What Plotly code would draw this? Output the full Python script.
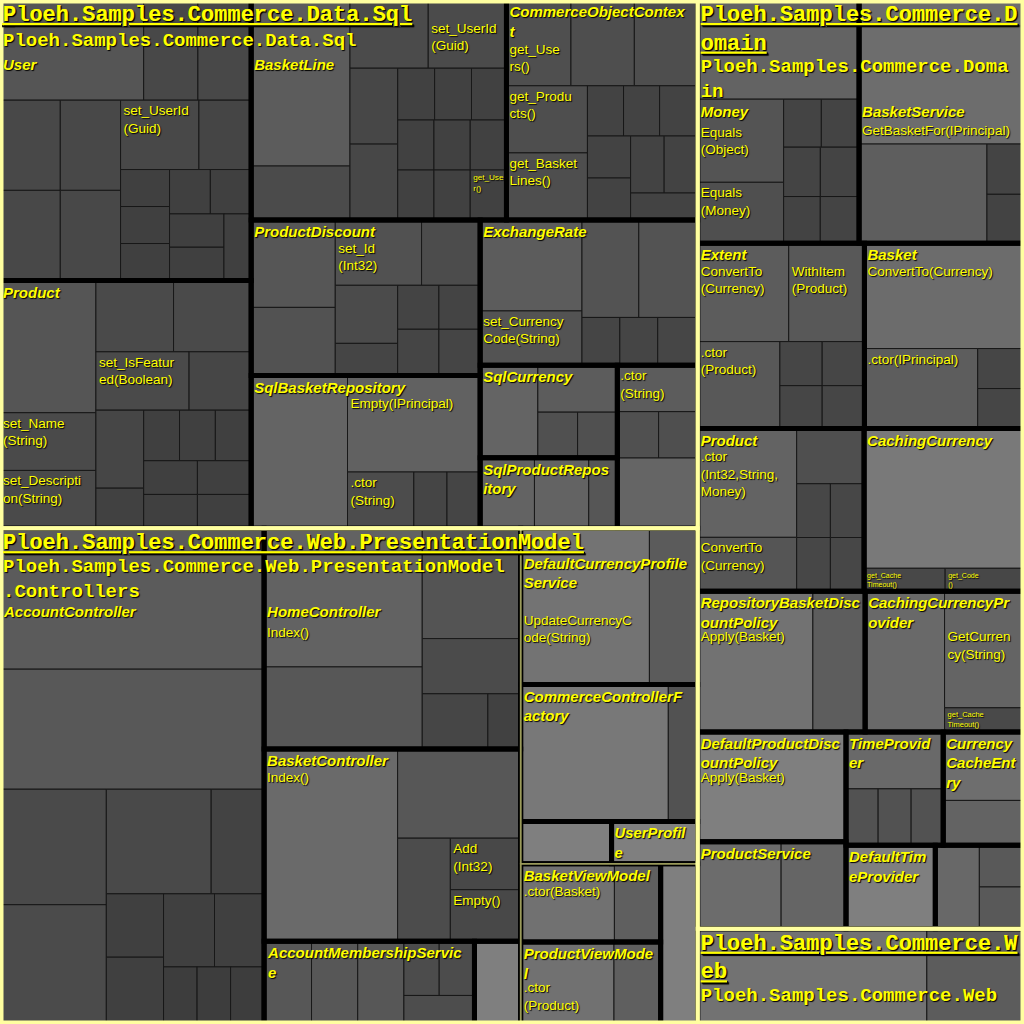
import math
import plotly.graph_objects as go

# ---------------- data ----------------
ASSEMBLIES = ["Ploeh.Samples.Commerce.Data.Sql",
              "Ploeh.Samples.Commerce.Web.PresentationModel",
              "Ploeh.Samples.Commerce.Domain",
              "Ploeh.Samples.Commerce.Web"]
ASSEMBLY_TEXT = ["Ploeh.Samples.Commerce.Data.Sql",
                 "Ploeh.Samples.Commerce.Web.PresentationModel",
                 "Ploeh.Samples.Commerce.D<br>omain",
                 "Ploeh.Samples.Commerce.W<br>eb"]

NS_NAMES = ["Ploeh.Samples.Commerce.Data.Sql",
            "Ploeh.Samples.Commerce.Web.PresentationModel.Controllers",
            "(namespace)", "(namespace)",
            "Ploeh.Samples.Commerce.Domain",
            "Ploeh.Samples.Commerce.Web"]
NS_ASSEMBLY = [0, 1, 1, 1, 2, 3]
NS_TEXT = ["Ploeh.Samples.Commerce.Data.Sql",
           "Ploeh.Samples.Commerce.Web.PresentationModel<br>.Controllers",
           "", "",
           "Ploeh.Samples.Commerce.Doma<br>in",
           "Ploeh.Samples.Commerce.Web"]

TYPE_KEYS = ["sql.User", "sql.Product", "sql.BasketLine", "sql.CommerceObjectContext",
             "sql.ProductDiscount", "sql.SqlBasketRepository", "sql.ExchangeRate",
             "sql.SqlCurrency", "sql.SqlProductRepository", "sql.(type)",
             "ctl.AccountController", "ctl.HomeController", "ctl.BasketController",
             "ctl.AccountMembershipService", "ctl.(type)",
             "svc.DefaultCurrencyProfileService", "svc.CommerceControllerFactory",
             "svc.(type)", "svc.UserProfile",
             "mdl.BasketViewModel", "mdl.ProductViewModel", "mdl.(type)",
             "dom.Money", "dom.BasketService", "dom.Extent", "dom.Basket", "dom.Product",
             "dom.CachingCurrency", "dom.RepositoryBasketDiscountPolicy",
             "dom.CachingCurrencyProvider", "dom.DefaultProductDiscountPolicy",
             "dom.ProductService", "dom.TimeProvider", "dom.CurrencyCacheEntry",
             "dom.DefaultTimeProvider", "dom.(type)",
             "web.(type)"]
TYPE_NS = [0] * 10 + [1] * 5 + [2] * 4 + [3] * 3 + [4] * 14 + [5]
TYPE_TEXT = ["User", "Product", "BasketLine", "CommerceObjectContex<br>t",
             "ProductDiscount", "SqlBasketRepository", "ExchangeRate",
             "SqlCurrency", "SqlProductRepos<br>itory", "",
             "AccountController", "HomeController", "BasketController",
             "AccountMembershipServic<br>e", "",
             "DefaultCurrencyProfile<br>Service", "CommerceControllerF<br>actory",
             "", "UserProfil<br>e",
             "BasketViewModel", "ProductViewMode<br>l", "",
             "Money", "BasketService", "Extent", "Basket", "Product",
             "CachingCurrency", "RepositoryBasketDisc<br>ountPolicy",
             "CachingCurrencyPr<br>ovider", "DefaultProductDisc<br>ountPolicy",
             "ProductService", "TimeProvid<br>er", "Currency<br>CacheEnt<br>ry",
             "DefaultTim<br>eProvider", "",
             ""]

# method metric values per type (in layout order)
METHOD_VALUES = {
    "sql.User": [14.3, 5.4, 5.3, 5.4, 5.4, 5.4, 5.4, 5.4, 3.6, 1.8, 1.8, 1.8, 1.8, 1.8, 1.8, 1.8, 1.8],
    "sql.Product": [12.6, 5.5, 5.5, 5.5, 5.5, 5.4, 3.6, 3.7, 1.9, 1.8, 1.8, 1.8, 1.8, 1.8, 1.8, 1.8],
    "sql.BasketLine": [16.3, 5.3, 5.3, 5.3, 3.6, 3.6, 1.9, 1.9, 1.8, 1.8, 1.8, 1.8, 1.8, 1.8, 1.8],
    "sql.CommerceObjectContext": [5.5, 5.4, 5.4, 5.4, 5.4, 1.8, 1.8, 1.9, 1.8, 1.8, 1.9, 1.9, 1.8],
    "sql.ProductDiscount": [7.3, 5.7, 5.6, 3.8, 3.6, 2.0, 1.8, 1.8, 1.9, 1.9],
    "sql.SqlBasketRepository": [14.6, 12.7, 3.7, 1.85, 1.85],
    "sql.ExchangeRate": [9.2, 5.5, 5.5, 5.7, 1.8, 1.8, 1.9],
    "sql.SqlCurrency": [5.3, 3.7, 1.8, 1.8],
    "sql.SqlProductRepository": [3.8, 3.8, 2.0],
    "sql.(type)": [3.7, 1.9, 1.8, 5.6],
    "ctl.AccountController": [37.0, 31.5, 12.2, 12.6, 10.9, 5.5, 3.6, 3.8, 3.7, 3.6, 1.9, 1.9, 1.9],
    "ctl.HomeController": [21.8, 12.9, 10.8, 5.4, 3.6, 1.8],
    "ctl.BasketController": [25.5, 10.9, 5.4, 3.6, 3.6],
    "ctl.AccountMembershipService": [3.9, 3.8, 3.8, 1.9, 1.9, 2.0],
    "ctl.(type)": [3.8],
    "svc.DefaultCurrencyProfileService": [20.0, 7.5],
    "svc.CommerceControllerFactory": [20.1, 4.0],
    "svc.(type)": [3.8],
    "svc.UserProfile": [3.6],
    "mdl.BasketViewModel": [7.3, 3.6],
    "mdl.ProductViewModel": [7.6, 3.8],
    "mdl.(type)": [5.9],
    "dom.Money": [15.9, 7.1, 5.2, 1.8, 1.8, 1.8, 1.9, 1.7, 1.8],
    "dom.BasketService": [23.6, 12.6, 1.85, 1.8],
    "dom.Extent": [8.9, 7.4, 7.1, 1.85, 1.85, 1.8, 1.8],
    "dom.Basket": [16.7, 9.0, 1.84, 1.84],
    "dom.Product": [10.7, 5.3, 3.7, 1.8, 1.8, 1.8, 1.8],
    "dom.CachingCurrency": [22.2, 1.85, 1.8],
    "dom.RepositoryBasketDiscountPolicy": [16.1, 7.3],
    "dom.CachingCurrencyProvider": [11.1, 9.2, 1.9],
    "dom.DefaultProductDiscountPolicy": [16.2],
    "dom.ProductService": [7.2, 5.6],
    "dom.TimeProvider": [5.5, 1.8, 1.85, 1.8],
    "dom.CurrencyCacheEntry": [5.5, 3.6],
    "dom.DefaultTimeProvider": [7.4],
    "dom.(type)": [3.65, 1.85, 1.85],
    "web.(type)": [21.7, 9.2],
}

METHOD_TEXT = {
    "sql.User": {7: "set_UserId<br>(Guid)"},
    "sql.Product": {1: "set_Name<br>(String)", 2: "set_Descripti<br>on(String)",
                    5: "set_IsFeatur<br>ed(Boolean)"},
    "sql.BasketLine": {3: "set_UserId<br>(Guid)", 14: "get_Use<br>r()"},
    "sql.CommerceObjectContext": {0: "get_Use<br>rs()", 3: "get_Produ<br>cts()",
                                  4: "get_Basket<br>Lines()"},
    "sql.ProductDiscount": {2: "set_Id<br>(Int32)"},
    "sql.SqlBasketRepository": {1: "Empty(IPrincipal)", 2: ".ctor<br>(String)"},
    "sql.ExchangeRate": {1: "set_Currency<br>Code(String)"},
    "sql.(type)": {0: ".ctor<br>(String)"},
    "ctl.HomeController": {0: "Index()"},
    "ctl.BasketController": {0: "Index()", 3: "Add<br>(Int32)", 4: "Empty()"},
    "svc.DefaultCurrencyProfileService": {0: "UpdateCurrencyC<br>ode(String)"},
    "mdl.BasketViewModel": {0: ".ctor(Basket)"},
    "mdl.ProductViewModel": {0: ".ctor<br>(Product)"},
    "dom.Money": {1: "Equals<br>(Object)", 2: "Equals<br>(Money)"},
    "dom.BasketService": {0: "GetBasketFor(IPrincipal)"},
    "dom.Extent": {0: "ConvertTo<br>(Currency)", 1: "WithItem<br>(Product)", 2: ".ctor<br>(Product)"},
    "dom.Basket": {0: "ConvertTo(Currency)", 1: ".ctor(IPrincipal)"},
    "dom.Product": {0: ".ctor<br>(Int32,String,<br>Money)", 1: "ConvertTo<br>(Currency)"},
    "dom.CachingCurrency": {1: "get_Cache<br>Timeout()", 2: "get_Code<br>()"},
    "dom.RepositoryBasketDiscountPolicy": {0: "Apply(Basket)"},
    "dom.CachingCurrencyProvider": {1: "GetCurren<br>cy(String)", 2: "get_Cache<br>Timeout()"},
    "dom.DefaultProductDiscountPolicy": {0: "Apply(Basket)"},
}

# ---------------- label stacking (style): (blank lines, size of first blank line) ----------------
NS_LEAD = {0: (1, 22), 1: (1, None), 4: (2, 24), 5: (2, 24)}
TYPE_LEAD = {"sql.User": (3, 9), "sql.BasketLine": (3, 9), "ctl.AccountController": (4, 9),
             "ctl.HomeController": (4, 9), "svc.DefaultCurrencyProfileService": (1, 20),
             "dom.Money": (5, 18), "dom.BasketService": (5, 18)}
METHOD_LEAD = {("sql.BasketLine", 3): (1, None), ("sql.CommerceObjectContext", 0): (1, 37),
               ("sql.ProductDiscount", 2): (1, None), ("sql.SqlBasketRepository", 1): (1, None),
               ("ctl.HomeController", 0): (6, 1), ("ctl.BasketController", 0): (1, None),
               ("svc.DefaultCurrencyProfileService", 0): (5, 7),
               ("mdl.BasketViewModel", 0): (1, None), ("mdl.ProductViewModel", 0): (2, None),
               ("dom.Money", 1): (1, 19), ("dom.BasketService", 0): (7, 10),
               ("dom.Extent", 0): (1, None), ("dom.Extent", 1): (1, None),
               ("dom.Basket", 0): (1, None), ("dom.Product", 0): (1, None),
               ("dom.RepositoryBasketDiscountPolicy", 0): (2, None),
               ("dom.CachingCurrencyProvider", 1): (2, None),
               ("dom.DefaultProductDiscountPolicy", 0): (2, None)}


def lead(spec):
    if not spec:
        return ""
    k, x = spec
    first = f'<span style="font-size:{x}px">\u00a0</span><br>' if x else "\u00a0<br>"
    return first + "\u00a0<br>" * (k - 1)


ids, labels, parents, values, texts, levels, frac = [], [], [], [], [], [], []


def add(i, lab, par, val, txt, lev, f=0.0):
    ids.append(i); labels.append(lab); parents.append(par); values.append(val)
    texts.append(txt); levels.append(lev); frac.append(f)


add("root", "Code", "", 0, "", 0)
for a, name in enumerate(ASSEMBLIES):
    add(f"A{a}", name, "root", 0, ASSEMBLY_TEXT[a], 1)
for n, name in enumerate(NS_NAMES):
    t = NS_TEXT[n]
    add(f"N{n}", name, f"A{NS_ASSEMBLY[n]}", 0, (lead(NS_LEAD.get(n)) + t) if t else "", 2)
for k, key in enumerate(TYPE_KEYS):
    t = TYPE_TEXT[k]
    add(key, key.split(".", 1)[1], f"N{TYPE_NS[k]}", 0,
        (lead(TYPE_LEAD.get(key)) + "<b><i>" + t + "</i></b>") if t else "", 3)
    vals = METHOD_VALUES[key]
    tot = sum(vals)
    for m, v in enumerate(vals):
        mt = METHOD_TEXT.get(key, {}).get(m, "")
        add(f"{key}/{m}", mt.replace("<br>", "") or "method", key, v,
            (lead(METHOD_LEAD.get((key, m))) + mt) if mt else "", 4, v / tot)

N = len(ids)
FAMILY = {0: "Liberation Sans", 1: "Liberation Mono", 2: "Liberation Mono",
          3: "Liberation Sans", 4: "Liberation Sans"}
SIZE = {0: 12, 1: 22, 2: 19, 3: 15, 4: 13.5}
TRANSP = "rgba(0,0,0,0)"


def gray(f):
    g = int(52 + 75 * math.sqrt(f))
    return f"rgb({g},{g},{g})"


fill_colors = [gray(frac[i]) if levels[i] == 4 else "#000000" for i in range(N)]

common = dict(ids=ids, labels=labels, parents=parents, values=values,
              branchvalues="remainder", sort=False,
              tiling=dict(packing="squarify", squarifyratio=1, pad=0),
              pathbar=dict(visible=False), hoverinfo="none",
              domain=dict(x=[0, 1], y=[0, 1]))
PAD0 = dict(t=0, l=0, r=0, b=0)


def frame_trace(colors, line_color, widths):
    return go.Treemap(**common, textinfo="none", maxdepth=-1,
                      marker=dict(colors=colors, depthfade=False, pad=PAD0,
                                  line=dict(color=line_color, width=widths)))


def text_trace(level, maxdepth, line_color="#000000", widths=None):
    return go.Treemap(**common, maxdepth=maxdepth,
                      text=[texts[i] if levels[i] == level else "" for i in range(N)],
                      texttemplate="%{text}", textposition="top left",
                      textfont=dict(family=FAMILY[level], size=SIZE[level], color="#ffff00",
                                    weight="bold" if level in (1, 2) else "normal",
                                    lineposition="under" if level == 1 else "none",
                                    shadow="1px 1px 1px #000000"),
                      marker=dict(colors=[TRANSP] * N, depthfade=False, pad=PAD0,
                                  line=dict(color=line_color,
                                            width=widths if widths is not None else 0)))


traces = [
    frame_trace(fill_colors, "#181818", [1 if lv == 4 else 0 for lv in levels]),
    frame_trace([TRANSP] * N, "#000000", [5 if lv == 3 else 0 for lv in levels]),
    frame_trace([TRANSP] * N, "#9a9a5a", [1.5 if lv == 2 else 0 for lv in levels]),
    text_trace(1, 2, "#ffffa0", [7 if lv == 0 else (4 if lv == 1 else 0) for lv in levels]),
    text_trace(2, 3),
    text_trace(3, 4),
    text_trace(4, -1),
]

fig = go.Figure(traces)
fig.update_layout(width=1024, height=1024, margin=dict(l=0, r=0, t=0, b=0),
                  paper_bgcolor="#000000", plot_bgcolor="#000000", showlegend=False,
                  hovermode=False)
fig.write_html("out.html")
